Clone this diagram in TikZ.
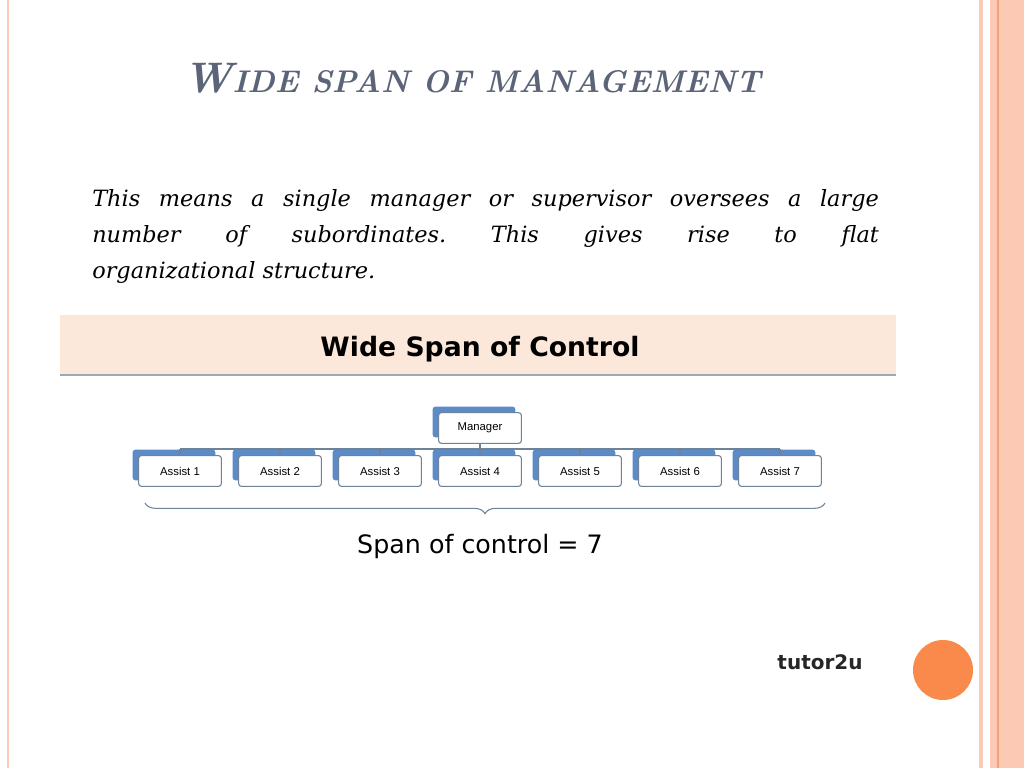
\documentclass[tikz,border=0pt]{standalone}
\usepackage{fontspec}
\newfontfamily\boxfont{Liberation Sans}
\newfontfamily\headfont{DejaVu Sans}
\newfontfamily\bodyfont{DejaVu Serif}
\usetikzlibrary{shadows,decorations.pathreplacing}
\definecolor{stripe}{HTML}{FBC9B4}
\definecolor{stripedark}{HTML}{F4A27C}
\definecolor{titlegray}{HTML}{5B6478}
\definecolor{boxblue}{HTML}{5B8CC8}
\definecolor{boxline}{HTML}{6E8398}
\definecolor{banner}{HTML}{FCE8DA}
\definecolor{dot}{HTML}{FA8A4C}
\frenchspacing
\begin{document}
\begin{tikzpicture}[x=0.75pt, y=-0.75pt,
    assist/.style={draw=boxline, fill=white, rounded corners=2pt, line width=0.8pt,
      minimum width=62pt, minimum height=23pt, font=\boxfont\fontsize{8.5}{9}\selectfont,
      drop shadow={shadow xshift=-4.5pt, shadow yshift=4.5pt, fill=boxblue, opacity=1}},
    conn/.style={draw=boxline, line width=0.8pt},]
  \useasboundingbox (0,0) rectangle (1024,768);
  % borders
  \fill[stripe] (979,0) rectangle (983,768);
  \fill[stripe] (990,0) rectangle (1024,768);
  \draw[stripedark, line width=0.8pt] (998,0) -- (998,768);
  \draw[stripe, line width=1.2pt] (8,0) -- (8,768);
  % title and text
  \node[text=titlegray, font=\fontsize{32}{36}\selectfont\bfseries\itshape] (title) at (472,78)
    {W{\fontsize{23.5}{28}\selectfont IDE SPAN OF MANAGEMENT}};
  \node[anchor=north west, text width=590pt, align=justify, inner sep=0pt,
        font=\bodyfont\fontsize{16.8}{27}\selectfont\itshape] (body) at (92,189)
    {This means a single manager or supervisor oversees a large\linebreak number of subordinates. This gives rise to flat\linebreak organizational structure.};
  % banner
  \fill[banner] (60,315) rectangle (896,375);
  \draw[boxline!70, line width=1pt] (60,375) -- (896,375);
  \node[font=\headfont\bfseries\fontsize{20}{24}\selectfont] (head) at (480,349) {Wide Span of Control};
  % chart
  \node[assist] (mgr) at (480,428) {Manager};
  \coordinate (bus) at (480,449);
  \foreach \i in {1,...,7}{
    \node[assist] (a\i) at (80+100*\i,471) {Assist \i};
    \draw[conn] (a\i.north) -- (a\i.north |- bus);
  }
  \draw[conn] (mgr.south) -- (bus);
  \draw[conn] (a1.north |- bus) -- (a7.north |- bus);
  \draw[boxline, line width=0.8pt, decorate, decoration={brace, amplitude=8pt, mirror}]
    (145,503) -- (825,503);
  \node[font=\headfont\fontsize{19}{22}\selectfont] (span) at (480,547) {Span of control = 7};
  % logo and dot
  \node[font=\headfont\bfseries\fontsize{15}{16}\selectfont, text=black!85] (logo) at (820,662) {tutor2u};
  \fill[dot] (943,670) circle (30);
\end{tikzpicture}
\end{document}
